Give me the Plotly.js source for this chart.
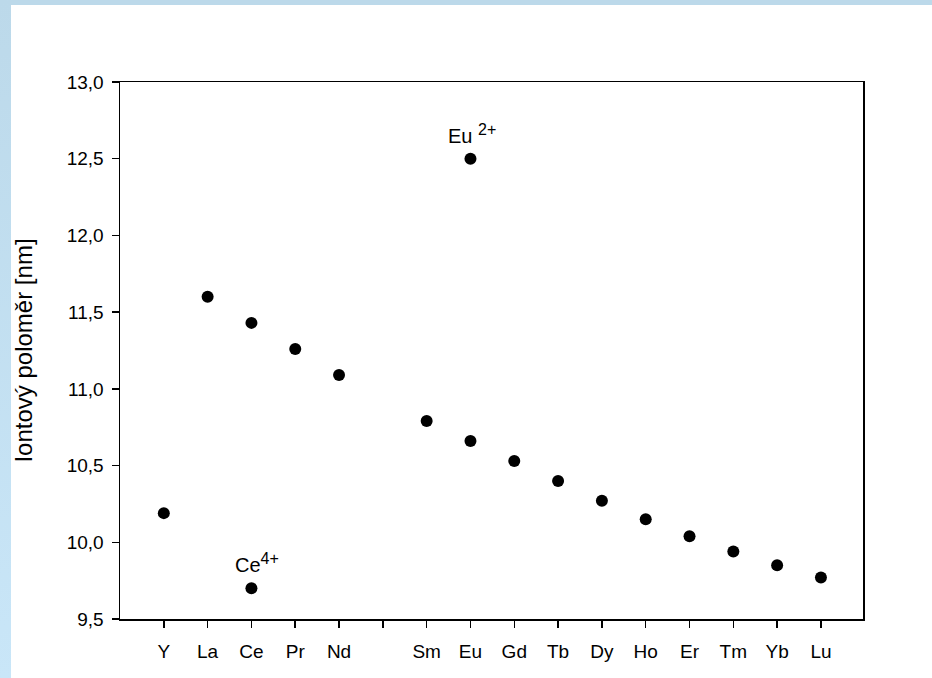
<!DOCTYPE html>
<html>
<head>
<meta charset="utf-8">
<script src="https://cdn.plot.ly/plotly-3.0.1.min.js"></script>
<style>
html,body{margin:0;padding:0;width:932px;height:678px;overflow:hidden;background:#fff;}
#bandTop{position:absolute;left:0;top:0;width:932px;height:5px;background:#bcd9ea;}
#bandLeft{position:absolute;left:0;top:0;width:11px;height:678px;background:linear-gradient(#bcd9ea,#c9e6f8);}
#chart{position:absolute;left:0;top:0;width:932px;height:678px;}
</style>
</head>
<body>
<div id="bandTop"></div>
<div id="bandLeft"></div>
<div id="chart"></div>
<script>
// Tick labels along the x axis (blank slot = Pm, no value)
const elements = ["Y","La","Ce","Pr","Nd","","Sm","Eu","Gd","Tb","Dy","Ho","Er","Tm","Yb","Lu"];
// Ionic radius values (trivalent ions)
const radius = [10.19,11.60,11.43,11.26,11.09,null,10.79,10.66,10.53,10.40,10.27,10.15,10.04,9.94,9.85,9.77];
// Special oxidation states
const specialLabels = ["Eu <sup><span style=\"font-size:16px\">2+</span></sup>","Ce<sup><span style=\"font-size:16px\">4+</span></sup>"];
const specialElements = ["Eu","Ce"];
const specialRadius = [12.50,9.70];

const xIdx = elements.map((e,i)=>i);
const specialIdx = specialElements.map(e=>elements.indexOf(e));

const FAM = 'Liberation Sans, Arial, sans-serif';
const mk = {color:'#000', size:12, symbol:'circle'};
const traces = [
  {x:xIdx, y:radius, type:'scatter', mode:'markers', marker:mk, showlegend:false, hoverinfo:'skip'},
  {x:specialIdx, y:specialRadius, type:'scatter', mode:'markers', marker:mk, showlegend:false, hoverinfo:'skip'}
];

const layout = {
  width:932, height:678,
  margin:{l:120, r:69, t:82, b:59, pad:0},
  paper_bgcolor:'rgba(0,0,0,0)', plot_bgcolor:'rgba(0,0,0,0)',
  separators:', ',
  font:{family:FAM, size:19, color:'#000'},
  showlegend:false,
  xaxis:{
    range:[-1,15.96], tickmode:'array', tickvals:xIdx, ticktext:elements,
    ticks:'outside', ticklen:7, tickwidth:1.5, tickcolor:'#000', ticklabelstandoff:8,
    showline:true, linecolor:'#000', linewidth:1.5, mirror:true,
    showgrid:false, zeroline:false, tickfont:{family:FAM, size:19, color:'#000'}
  },
  yaxis:{
    range:[9.5,13.0], tickmode:'array', tickvals:[9.5,10,10.5,11,11.5,12,12.5,13], tickformat:'.1f',
    ticks:'outside', ticklen:7, tickwidth:1.5, tickcolor:'#000', ticklabelstandoff:4,
    showline:true, linecolor:'#000', linewidth:1.5, mirror:true,
    showgrid:false, zeroline:false, tickfont:{family:FAM, size:19, color:'#000'},
    title:{text:'Iontový poloměr [nm]', font:{family:FAM, size:24, color:'#000'}, standoff:27}
  },
  annotations: specialLabels.map((t,i)=>({
    x:specialIdx[i], y:specialRadius[i], text:t, showarrow:false,
    xanchor:'center', yanchor:'bottom', yshift:10, xshift:(i===0?2:6),
    font:{family:FAM, size:20, color:'#000'}
  }))
};
Plotly.newPlot('chart', traces, layout, {displayModeBar:false, staticPlot:true});
</script>
</body>
</html>
